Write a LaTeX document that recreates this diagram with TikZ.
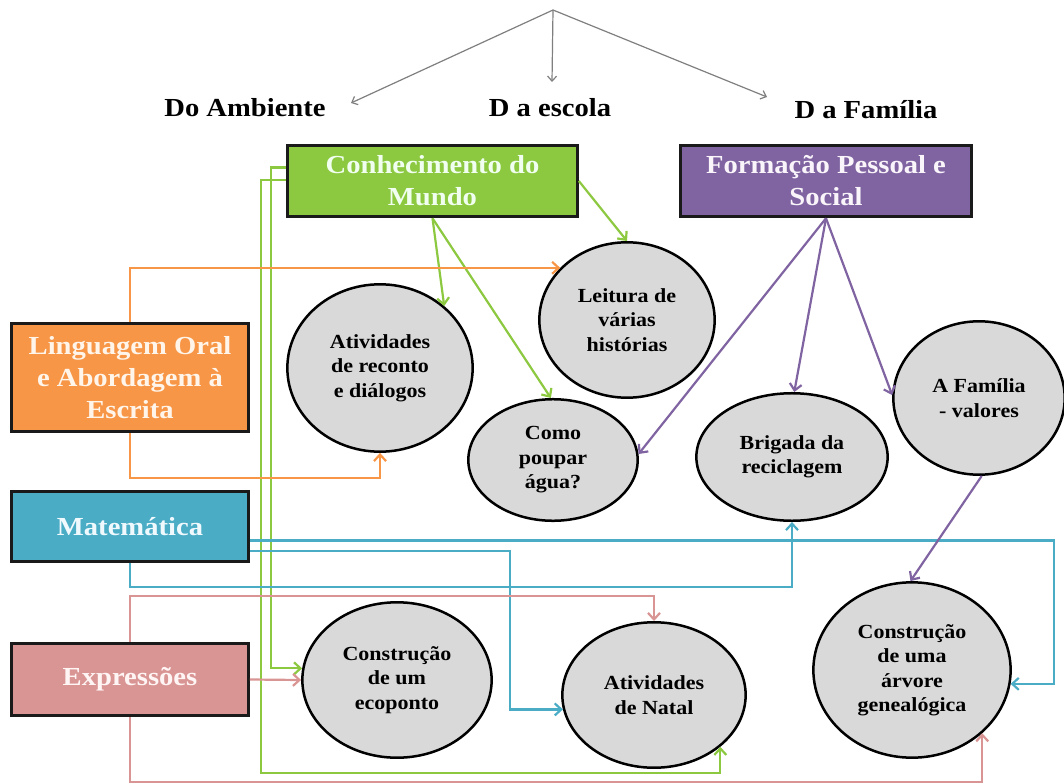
\documentclass[tikz,border=0pt]{standalone}
\usepackage{fontspec}
\setmainfont{Liberation Serif}[FakeStretch=1.1]
\usetikzlibrary{arrows.meta,calc,shapes.geometric}

\definecolor{cgreen}{HTML}{8CC840}
\definecolor{cpurple}{HTML}{8064A2}
\definecolor{corange}{HTML}{F79646}
\definecolor{cblue}{HTML}{4BACC6}
\definecolor{cpink}{HTML}{D99594}
\definecolor{topicgray}{HTML}{D9D9D9}
\definecolor{boxline}{HTML}{1A1A1A}
\definecolor{toparrow}{HTML}{7F7F7F}

\begin{document}
\begin{tikzpicture}[x=1bp,y=-1bp,
  box/.style={draw=boxline, line width=2.8bp, inner sep=0, align=center,
    font=\fontsize{26bp}{32bp}\selectfont\bfseries},
  topic/.style={ellipse, draw=black, line width=2.5bp, fill=topicgray, inner sep=0,
    align=center, font=\fontsize{20bp}{24.5bp}\selectfont\bfseries},
  link/.style={line width=2.2bp, -{Straight Barb[length=6.5bp,width=12bp]}},
  hdr/.style={inner sep=0, font=\fontsize{26bp}{30bp}\selectfont\bfseries},
  ray/.style={draw=toparrow, line width=1.2bp, -{Straight Barb[length=5bp,width=9bp]}},
]
\useasboundingbox (0,0) rectangle (1064,784);

% headings and the three rays from the top
\coordinate (src) at (553,10);
\node[hdr] (amb) at (245,108) {Do Ambiente};
\node[hdr] (esc) at (550,108) {D a escola};
\node[hdr] (fam0) at (866,110) {D a Família};
\coordinate (ambTip) at (351,103);
\coordinate (escTip) at (552,82);
\coordinate (famTip) at (767,97);
\draw[ray] (src) -- (ambTip);
\draw[ray] (src) -- (escTip);
\draw[ray] (src) -- (famTip);

% curriculum areas
\node[box, fill=cgreen, text=green!6, minimum width=291, minimum height=72]
  (conh) at (432.5,181) {Conhecimento do\\Mundo};
\node[box, fill=cpurple, text=violet!4, minimum width=292, minimum height=72]
  (form) at (826,181) {Formação Pessoal e\\Social};
\node[box, fill=corange, text=orange!8, minimum width=238, minimum height=109]
  (ling) at (130,377.5) {Linguagem Oral\\e Abordagem à\\Escrita};
\node[box, fill=cblue, text=cyan!6, minimum width=238, minimum height=71]
  (mat) at (130,526.5) {Matemática};
\node[box, fill=cpink, text=red!4, minimum width=238, minimum height=73]
  (expr) at (130,679.5) {Expressões};

% activities
\node[topic, minimum width=186, minimum height=168] (reconto) at (380,368) {Atividades\\de reconto\\e diálogos};
\node[topic, minimum width=176, minimum height=156] (leitura) at (627,320) {Leitura de\\várias\\histórias};
\node[topic, minimum width=170, minimum height=122] (poupar) at (553,460) {Como\\poupar\\água?};
\node[topic, minimum width=192, minimum height=128] (brig) at (792,457) {Brigada da\\reciclagem};
\node[topic, minimum width=172, minimum height=154] (fam) at (979,398) {A Família\\- valores};
\node[topic, minimum width=190, minimum height=156] (ecop) at (397,680) {Construção\\de um\\ecoponto};
\node[topic, minimum width=184, minimum height=146] (natal) at (654,695) {Atividades\\de Natal};
\node[topic, minimum width=198, minimum height=176] (arvore) at (912,670) {Construção\\de uma\\árvore\\genealógica};

% Conhecimento do Mundo
\draw[link, cgreen] (conh.south) -- (reconto.44);
\draw[link, cgreen] (conh.south) -- (poupar.92);
\draw[link, cgreen] (conh.east) -- (leitura.north);
\coordinate (cw1) at ($(conh.north west)!0.32!(conh.south west)$);
\coordinate (cw2) at ($(conh.north west)!0.49!(conh.south west)$);
\draw[link, cgreen] (cw1) -- ++(-15,0) |- (ecop.173);
\draw[link, cgreen] (cw2) -- ++(-25,0) -- ++(0,593) -| (natal.-38);

% Linguagem Oral e Abordagem à Escrita
\draw[link, corange] (ling.north) |- (leitura.142);
\draw[link, corange] (ling.south) -- ++(0,45) -| (reconto.south);

% Matemática
\coordinate (m1) at ($(mat.north east)!0.69!(mat.south east)$);
\coordinate (m2) at ($(mat.north east)!0.83!(mat.south east)$);
\coordinate (mR) at (1054,0);
\draw[link, cblue] (m1) -| (mR |- arvore.-8) -- (arvore.-8);
\draw[link, cblue] (m2) -- ++(260,0) |- (natal.189);
\draw[link, cblue] (mat.south) -- ++(0,24) -| (brig.south);

% Expressões
\draw[link, cpink] (expr.north) -- ++(0,-46) -| (natal.north);
\draw[link, cpink] (expr.east) -- (ecop.west);
\draw[link, cpink] (expr.south) -- ++(0,65) -| (arvore.-42);

% Formação Pessoal e Social
\draw[link, cpurple] (form.south) -- (poupar.4);
\draw[link, cpurple] (form.south) -- (brig.88);
\draw[link, cpurple] (form.south) -- (fam.178);
\draw[link, cpurple] (fam.-88) -- (arvore.91);
\end{tikzpicture}
\end{document}
